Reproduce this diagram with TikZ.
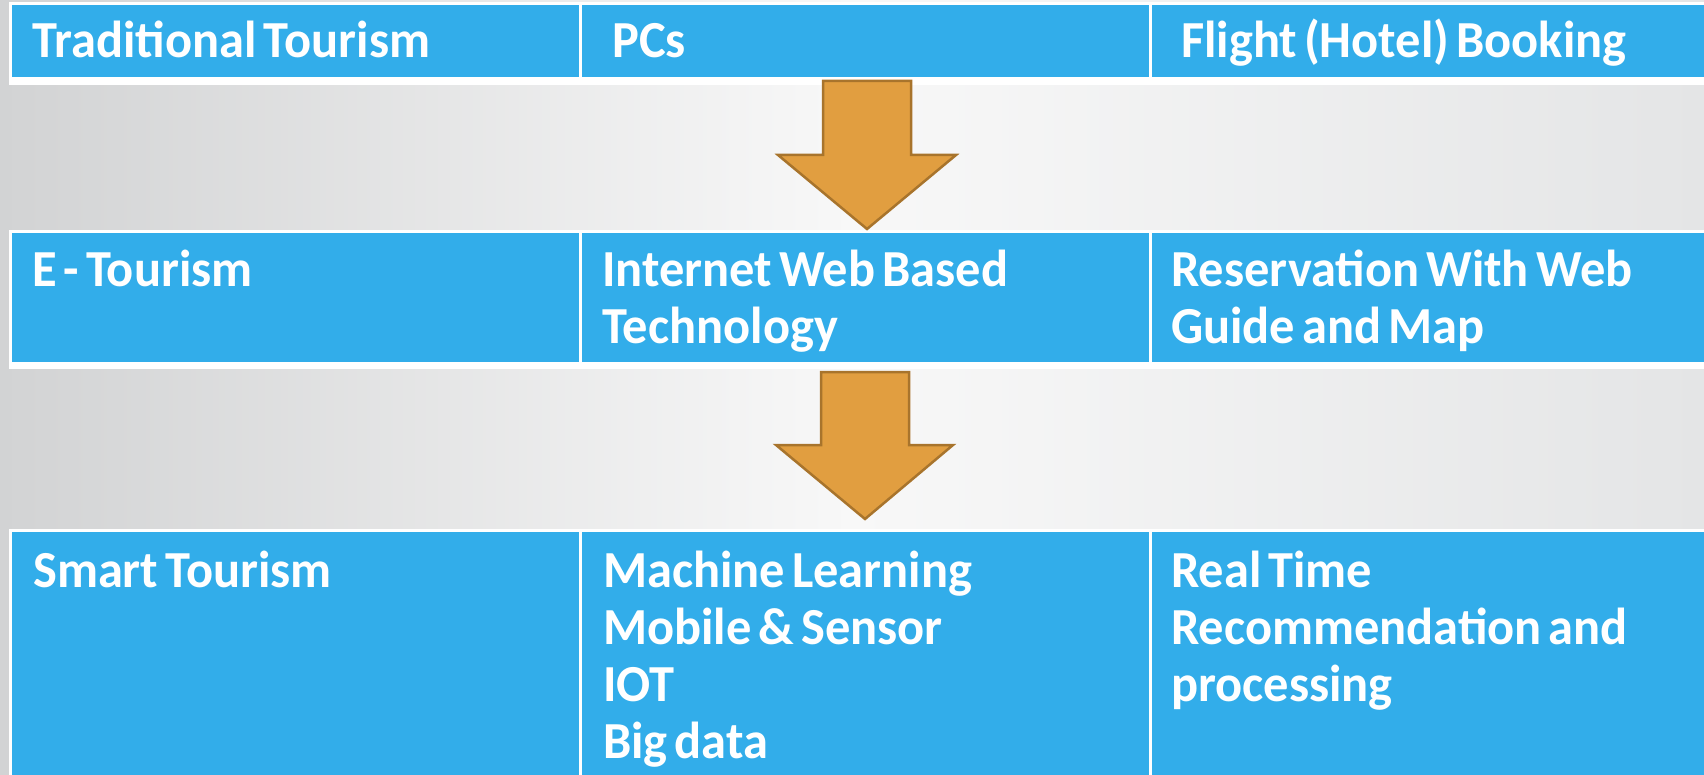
\documentclass[tikz,border=0pt]{standalone}
\usepackage{fontspec}
\setmainfont{Carlito}[FakeStretch=0.97]
\newcommand\tightspace{\spaceskip=7pt plus 1pt minus 1pt\relax}
\definecolor{cellblue}{RGB}{50,173,234}
\definecolor{arrfill}{RGB}{225,158,64}
\definecolor{arrline}{RGB}{168,116,44}
\definecolor{bgleft}{RGB}{210,211,212}
\definecolor{bgmid}{RGB}{248,248,248}
\definecolor{bgright}{RGB}{228,229,230}
\tikzset{
  cellbox/.style={fill=cellblue, draw=none, inner sep=0pt, anchor=north west},
  celltext/.style={text=white, font=\fontsize{52}{57}\selectfont\bfseries, execute at begin node=\tightspace, inner sep=0pt, anchor=base west, text width=540pt, align=left},
  blockarrow/.style={fill=arrfill, draw=arrline, line width=2.5pt, line join=miter},
  rowframe/.style={fill=white, draw=none}
}
\begin{document}
\begin{tikzpicture}[x=1pt,y=-1pt]
\useasboundingbox (0,0) rectangle (1704,775);
\shade[left color=bgleft, right color=bgright, middle color=bgmid] (0,0) rectangle (1704,775);
% row frames
\fill[rowframe] (9,2) rectangle (1704,85);
\fill[rowframe] (9,230) rectangle (1704,369);
\fill[rowframe] (9,529) rectangle (1704,775);
% row 1 cells
\node[cellbox, minimum width=567pt, minimum height=72pt] (r1c1) at (12,5) {};
\node[cellbox, minimum width=567pt, minimum height=72pt] (r1c2) at (582,5) {};
\node[cellbox, minimum width=552pt, minimum height=72pt] (r1c3) at (1152,5) {};
% row 2 cells
\node[cellbox, minimum width=567pt, minimum height=129pt] (r2c1) at (12,233) {};
\node[cellbox, minimum width=567pt, minimum height=129pt] (r2c2) at (582,233) {};
\node[cellbox, minimum width=552pt, minimum height=129pt] (r2c3) at (1152,233) {};
% row 3 cells
\node[cellbox, minimum width=567pt, minimum height=243pt] (r3c1) at (12,532) {};
\node[cellbox, minimum width=567pt, minimum height=243pt] (r3c2) at (582,532) {};
\node[cellbox, minimum width=552pt, minimum height=243pt] (r3c3) at (1152,532) {};
% texts
\node[celltext] (t11) at (32,58) {Traditional Tourism};
\node[celltext] (t12) at (612,58) {PCs};
\node[celltext] (t13) at (1181,58) {Flight (Hotel) Booking};
\node[celltext] (t21) at (32,287) {E - Tourism};
\node[celltext] (t22) at (602,287) {Internet Web Based\\Technology};
\node[celltext] (t23) at (1171,287) {Reservation With Web\\Guide and Map};
\node[celltext] (t31) at (33,587) {Smart Tourism};
\node[celltext] (t32) at (603,587) {Machine Learning\\Mobile \& Sensor\\IOT\\Big data};
\node[celltext] (t33) at (1171,587) {Real Time\\Recommendation and\\processing};
% block arrows
\coordinate (a1) at (867,81);
\draw[blockarrow] (823,81) -- (911,81) -- (911,155) -- (956,155) -- (867,229) -- (778,155) -- (823,155) -- cycle;
\coordinate (a2) at (865,372);
\draw[blockarrow] (821,372) -- (909,372) -- (909,445) -- (953,445) -- (865,519) -- (776,445) -- (821,445) -- cycle;
\end{tikzpicture}
\end{document}
